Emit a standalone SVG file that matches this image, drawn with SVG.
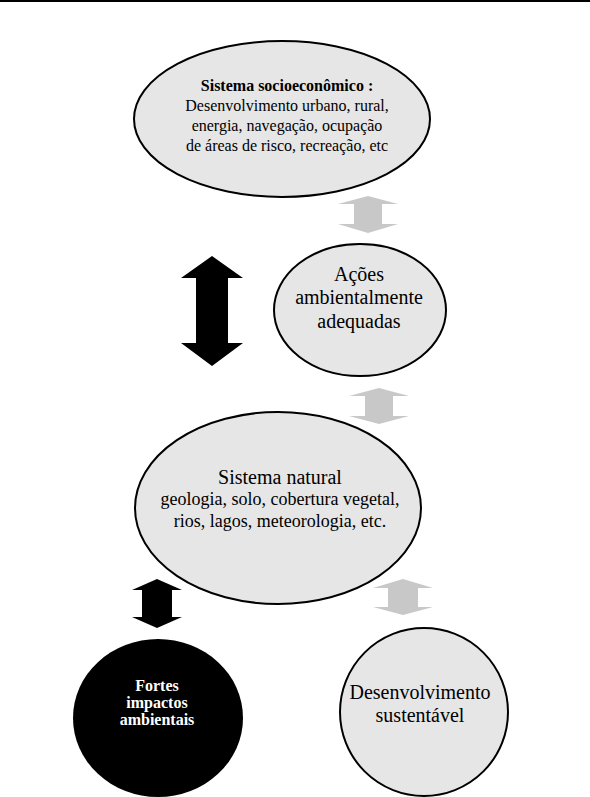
<svg xmlns="http://www.w3.org/2000/svg" width="590" height="797" viewBox="0 0 590 797">
<style>
.node{fill:#e6e6e6;stroke:#000;stroke-width:2}
.t{font-family:"Liberation Serif","Times New Roman",serif;fill:#000;text-anchor:middle}
.b{font-weight:bold}
.w{fill:#fff}
.ga{fill:#c8c8c8}
.ka{fill:#000}
</style>
<rect x="0" y="0" width="590" height="797" fill="#fff"/>
<line x1="0" y1="1" x2="590" y2="1" stroke="#000" stroke-width="2"/>
<g id="connectors">
<polygon class="ga" points="368,196 398,204 382,204 382,224 398,224 368,233 338,224 354,224 354,204 338,204"/>
<polygon class="ka" points="212,256 243,278 228,278 228,343 243,343 212,366 181,343 196,343 196,278 181,278"/>
<polygon class="ga" points="379,388 409,396 393,396 393,416 409,416 379,424 349,416 365,416 365,396 349,396"/>
<polygon class="ka" points="157,579 182,590 172,590 172,617 182,617 157,628 132,617 142,617 142,590 132,590"/>
<polygon class="ga" points="403,579 433,588 418,588 418,607 433,607 403,615 373,607 388,607 388,588 373,588"/>
</g>
<g id="socioeconomico">
<ellipse class="node" cx="282" cy="119" rx="148" ry="78"/>
<text class="t b" x="287" y="91" font-size="16">Sistema socioeconômico :</text>
<text class="t" x="287" y="111" font-size="16">Desenvolvimento urbano, rural,</text>
<text class="t" x="287" y="131" font-size="16">energia, navegação, ocupação</text>
<text class="t" x="287" y="151" font-size="16">de áreas de risco, recreação, etc</text>
</g>
<g id="acoes">
<ellipse class="node" cx="360" cy="310" rx="86" ry="66"/>
<text class="t" x="359" y="281" font-size="20">Ações</text>
<text class="t" x="359" y="304" font-size="20">ambientalmente</text>
<text class="t" x="359" y="328" font-size="20">adequadas</text>
</g>
<g id="natural">
<ellipse class="node" cx="278" cy="508" rx="143" ry="96"/>
<text class="t" x="280" y="484" font-size="20">Sistema natural</text>
<text class="t" x="280" y="505" font-size="18">geologia, solo, cobertura vegetal,</text>
<text class="t" x="280" y="527" font-size="18">rios, lagos, meteorologia, etc.</text>
</g>
<g id="impactos">
<ellipse cx="158" cy="718" rx="85" ry="79" fill="#000"/>
<text class="t b w" x="157" y="691" font-size="16">Fortes</text>
<text class="t b w" x="157" y="708" font-size="16">impactos</text>
<text class="t b w" x="157" y="725" font-size="16">ambientais</text>
</g>
<g id="sustentavel">
<ellipse class="node" cx="424" cy="712" rx="84" ry="84"/>
<text class="t" x="420" y="699" font-size="20">Desenvolvimento</text>
<text class="t" x="420" y="722" font-size="20">sustentável</text>
</g>
</svg>
